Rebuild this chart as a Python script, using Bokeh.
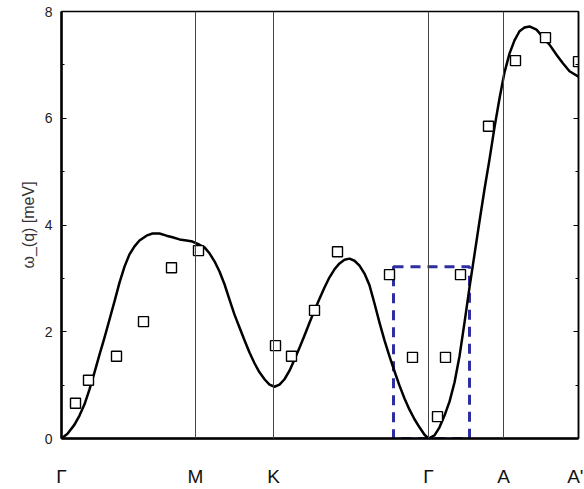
from bokeh.plotting import figure
from bokeh.models import Range1d, FixedTicker, LinearAxis, Span, CustomJSTickFormatter
from bokeh.embed import file_html
from bokeh.resources import INLINE

# path coordinate of high-symmetry points
sym_x = [0, 134, 212, 367, 442, 517]
sym_labels = ["Γ", "M", "K", "Γ", "A", "A'"]

# calculated dispersion curve
curve_x = [0, 6, 13, 18, 23, 28, 33, 38, 43, 48, 53, 58, 63, 68, 73, 78, 85, 91, 98, 105,
           111, 118, 125, 131, 138, 143, 148, 153, 158, 163, 168, 173, 178, 183, 188, 193, 198,
           203, 208, 213, 218, 223, 228, 233, 238, 243, 248, 253, 258, 263, 268, 273, 278, 283,
           288, 293, 298, 303, 308, 313, 318, 323, 328, 333, 338, 343, 348, 353, 358, 363, 367,
           373, 378, 383, 388, 393, 398, 403, 408, 413, 418, 423, 428, 433, 438, 443, 448, 453,
           458, 463, 468, 475, 481, 488, 495, 501, 508, 517]
curve_y = [0.0, 0.09, 0.26, 0.43, 0.64, 0.92, 1.24, 1.57, 1.89, 2.23, 2.57, 2.92, 3.22, 3.45,
           3.60, 3.71, 3.80, 3.84, 3.84, 3.80, 3.77, 3.73, 3.71, 3.69, 3.63, 3.58, 3.47, 3.32,
           3.13, 2.89, 2.60, 2.32, 2.08, 1.84, 1.61, 1.41, 1.24, 1.11, 1.01, 0.97, 1.01, 1.11,
           1.27, 1.48, 1.70, 1.93, 2.17, 2.40, 2.62, 2.83, 3.02, 3.17, 3.28, 3.35, 3.37, 3.33,
           3.24, 3.09, 2.87, 2.53, 2.17, 1.84, 1.54, 1.26, 0.99, 0.75, 0.54, 0.36, 0.21, 0.07,
           0.0, 0.06, 0.21, 0.43, 0.69, 1.05, 1.54, 2.17, 2.83, 3.45, 4.07, 4.67, 5.23, 5.83,
           6.37, 6.86, 7.21, 7.46, 7.63, 7.70, 7.72, 7.66, 7.53, 7.38, 7.19, 7.04, 6.88, 6.78]

# measured points
meas_x = [14, 27, 55, 82, 110, 137, 214, 230, 253, 276, 328, 351, 376, 384, 399, 427, 454, 484, 517]
meas_y = [0.66, 1.09, 1.54, 2.19, 3.20, 3.52, 1.74, 1.54, 2.40, 3.50, 3.07, 1.52, 0.41, 1.52,
          3.07, 5.85, 7.08, 7.51, 7.06]

# highlighted region
box_x = [332, 408]
box_y = [0, 3.22]

p = figure(frame_width=517, frame_height=427, output_backend="svg", toolbar_location=None,
           x_range=Range1d(0, 517), y_range=Range1d(0, 8),
           min_border_left=61, min_border_right=5, min_border_top=11, min_border_bottom=50)
p.xgrid.visible = False
p.ygrid.visible = False
p.outline_line_color = "black"
p.outline_line_width = 1.5

for xv in sym_x[1:-1]:
    p.add_layout(Span(location=xv, dimension="height", line_color="#444444", line_width=1))

p.quad(left=[box_x[0]], right=[box_x[1]], bottom=[box_y[0]], top=[box_y[1]],
       fill_color=None, line_color="#2e2ea0", line_width=3, line_dash="10 7")

p.line(curve_x, curve_y, line_color="black", line_width=2.5, line_join="round")
p.scatter(meas_x, meas_y, marker="square", size=10, fill_color="white",
          line_color="black", line_width=1.4)

# x axis
xa = p.xaxis[0]
xa.ticker = FixedTicker(ticks=sym_x)
xa.major_label_overrides = {v: l for v, l in zip(sym_x, sym_labels)}
xa.major_tick_in = 0
xa.major_tick_out = 0
xa.minor_tick_in = 0
xa.minor_tick_out = 0
xa.major_label_standoff = 27
xa.major_label_text_font = "Liberation Sans"
xa.major_label_text_font_size = "19px"
xa.major_label_text_color = "#111111"
xa.axis_line_width = 2.5
xa.axis_line_color = "black"

# y axis
ya = p.yaxis[0]
ya.ticker = FixedTicker(ticks=[0, 2, 4, 6, 8], minor_ticks=[1, 3, 5, 7])
ya.major_tick_in = 5
ya.major_tick_out = 0
ya.minor_tick_in = 3
ya.minor_tick_out = 0
ya.major_label_standoff = 9
ya.major_label_text_font = "Liberation Sans"
ya.major_label_text_font_size = "14px"
ya.major_label_text_color = "#222222"
ya.axis_line_width = 2.5
ya.axis_line_color = "black"
ya.axis_label = "ω_(q) [meV]"
ya.axis_label_text_font = "Liberation Sans"
ya.axis_label_text_font_size = "16px"
ya.axis_label_text_font_style = "normal"
ya.axis_label_text_color = "#333333"
ya.axis_label_standoff = 5

ra = LinearAxis(ticker=FixedTicker(ticks=[0, 2, 4, 6, 8], minor_ticks=[1, 3, 5, 7]),
                formatter=CustomJSTickFormatter(code="return ''"))
ra.major_tick_in = 5
ra.major_tick_out = 0
ra.minor_tick_in = 3
ra.minor_tick_out = 0
ra.major_label_standoff = 0
ra.axis_line_color = "black"
ra.axis_line_width = 1.5
p.add_layout(ra, "right")

open("out.html", "w").write(file_html(p, INLINE))
